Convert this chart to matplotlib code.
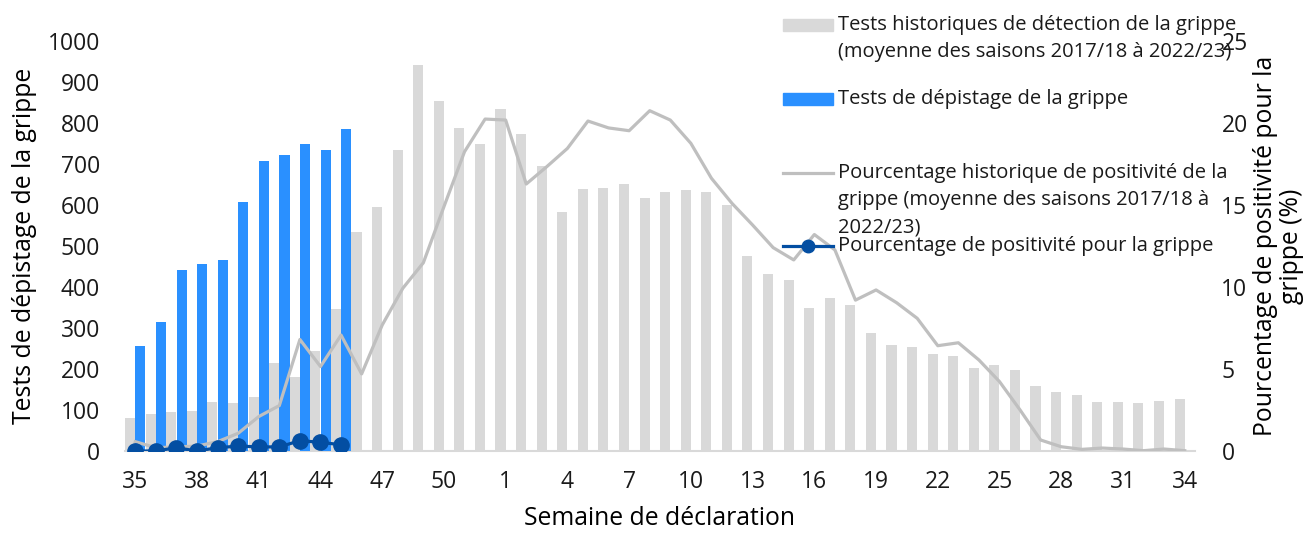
import matplotlib
matplotlib.use("Agg")
import matplotlib.pyplot as plt
from matplotlib.lines import Line2D
from matplotlib.patches import Rectangle
import numpy as np

plt.rcParams['font.family'] = ['Open Sans', 'DejaVu Sans']

# Weeks of the season (35 -> 52, then 1 -> 34)
weeks = list(range(35, 53)) + list(range(1, 35))

# Historical average number of tests (2017/18 to 2022/23)
hist_tests = [81, 91, 94, 98, 119, 117, 132, 215, 181, 245, 347, 533, 594, 734,
              941, 854, 789, 748, 833, 772, 695, 583, 638, 641, 651, 616, 631,
              637, 632, 600, 476, 432, 417, 348, 372, 356, 287, 259, 253, 237,
              232, 202, 210, 198, 159, 143, 137, 119, 119, 118, 122, 128]

# Current season tests (weeks 35 to 45)
cur_tests = [257, 314, 441, 457, 465, 607, 707, 721, 749, 733, 785]

# Historical average percent positivity
hist_pos = [0.57, 0.2, 0.25, 0.3, 0.57, 1.08, 2.1, 2.77, 6.8, 5.15, 7.07, 4.7,
            7.68, 9.92, 11.48, 14.9, 18.25, 20.24, 20.18, 16.28, 17.34, 18.45,
            20.12, 19.7, 19.53, 20.75, 20.18, 18.76, 16.63, 15.1, 13.78, 12.4,
            11.65, 13.2, 12.26, 9.2, 9.82, 9.04, 8.09, 6.42, 6.6, 5.55, 4.23,
            2.5, 0.67, 0.26, 0.1, 0.18, 0.12, 0.02, 0.12, 0.02]

# Current season percent positivity
cur_pos = [0.0, 0.0, 0.2, 0.0, 0.2, 0.3, 0.25, 0.25, 0.63, 0.53, 0.38]

lab_hist_tests = "Tests historiques de détection de la grippe\n(moyenne des saisons 2017/18 à 2022/23)"
lab_cur_tests = "Tests de dépistage de la grippe"
lab_hist_pos = "Pourcentage historique de positivité de la\ngrippe (moyenne des saisons 2017/18 à\n2022/23)"
lab_cur_pos = "Pourcentage de positivité pour la grippe"

c_grey_bar = '#D9D9D9'
c_blue_bar = '#2A90FF'
c_grey_line = '#BFBFBF'
c_dark = '#034EA2'
fs = 16.5      # tick labels
fs_lab = 17.8  # axis titles
fs_leg = 14.5  # legend

x = np.arange(len(weeks))
xc = np.arange(len(cur_tests))

fig = plt.figure(figsize=(13.1, 5.35), dpi=100)
ax = fig.add_axes([125 / 1310, 1 - 451 / 535, 1070 / 1310, 410 / 535])
ax2 = ax.twinx()

w = 0.49
ax.bar(x - 0.25, hist_tests, width=w, color=c_grey_bar, zorder=2)
ax.bar(xc + 0.25, cur_tests, width=w, color=c_blue_bar, zorder=3)

ax2.plot(x, hist_pos, color=c_grey_line, lw=2.3, zorder=3)
ax2.plot(xc, cur_pos, color=c_dark, lw=2.3, marker='o', ms=11, zorder=4)

ax.set_xlim(-0.5, len(weeks) - 0.5)
ax.set_ylim(0, 1000)
ax2.set_ylim(0, 25)
ax.set_yticks(range(0, 1001, 100))
ax2.set_yticks(range(0, 26, 5))
ax.set_xticks(x[::3])
ax.set_xticklabels([str(wk) for wk in weeks[::3]])

for a in (ax, ax2):
    for s in a.spines.values():
        s.set_visible(False)
ax.spines['bottom'].set_visible(True)
ax.spines['bottom'].set_color('#D9D9D9')
ax.spines['bottom'].set_linewidth(1.5)

ax.tick_params(axis='y', length=0, pad=18, labelsize=fs, colors='#1a1a1a')
ax.tick_params(axis='x', length=0, pad=14, labelsize=fs, colors='#1a1a1a')
ax2.tick_params(axis='y', length=0, pad=19, labelsize=fs, colors='#1a1a1a')

ax.set_xlabel("Semaine de déclaration", fontsize=fs_lab, labelpad=8)
ax.set_ylabel(lab_cur_tests, fontsize=fs_lab, labelpad=8)
ax2.set_ylabel("Pourcentage de positivité pour la\ngrippe (%)", fontsize=fs_lab,
               labelpad=4, linespacing=1.05)

# legend drawn by hand so the handles sit on the first text line
def fx(px):
    return px / 1310

def fy(py):
    return 1 - py / 535

entries = [
    ('bar', c_grey_bar, lab_hist_tests, 25),
    ('bar', c_blue_bar, lab_cur_tests, 99),
    ('line', c_grey_line, lab_hist_pos, 173),
    ('mline', c_dark, lab_cur_pos, 246),
]
for kind, col, lab, py in entries:
    if kind == 'bar':
        fig.add_artist(Rectangle((fx(783), fy(py + 6)), fx(50), 12 / 535,
                                 color=col, transform=fig.transFigure))
    else:
        fig.add_artist(Line2D([fx(783), fx(833)], [fy(py), fy(py)], color=col,
                              lw=2.3, transform=fig.transFigure))
        if kind == 'mline':
            fig.add_artist(Line2D([fx(808)], [fy(py)], color=col, marker='o',
                                  ms=9, transform=fig.transFigure))
    fig.text(fx(838), fy(py - 10), lab, fontsize=fs_leg, va='top', ha='left',
             linespacing=1.5, color='#1a1a1a')

fig.savefig("out.png", dpi=100)
